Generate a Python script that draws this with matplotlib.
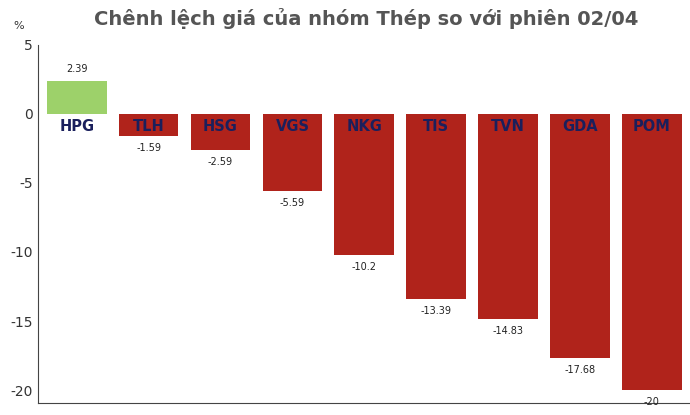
import matplotlib
matplotlib.use("Agg")
import matplotlib.pyplot as plt

categories = ["HPG", "TLH", "HSG", "VGS", "NKG", "TIS", "TVN", "GDA", "POM"]
values = [2.39, -1.59, -2.59, -5.59, -10.2, -13.39, -14.83, -17.68, -20]
labels = ["2.39", "-1.59", "-2.59", "-5.59", "-10.2", "-13.39", "-14.83", "-17.68", "-20"]
yticks = [5, 0, -5, -10, -15, -20]

fig = plt.figure(figsize=(6.9, 4.15), dpi=100)
ax = fig.add_axes([0.055, 0.03, 0.945, 0.862])
x = list(range(len(categories)))
colors = ["#9dd16a" if v > 0 else "#b0231b" for v in values]
ax.bar(x, values, width=0.83, color=colors)
for xi, v, lab, c in zip(x, values, labels, categories):
    if v > 0:
        ax.text(xi, v + 0.5, lab, ha="center", va="bottom", fontsize=7, color="#222")
    else:
        ax.text(xi, v - 0.5, lab, ha="center", va="top", fontsize=7, color="#222")
    ax.text(xi, -0.35, c, ha="center", va="top", fontsize=10.5, fontweight="bold", color="#1a1f5c")
ax.set_xlim(-0.54, 8.53)
ax.set_ylim(-20.9, 5)
ax.set_yticks(yticks)
ax.set_yticklabels([str(t) for t in yticks], fontsize=10, color="#333")
ax.set_xticks([])
ax.tick_params(axis="y", length=0)
for s in ["top", "right"]:
    ax.spines[s].set_visible(False)
ax.spines["left"].set_color("#444")
ax.spines["bottom"].set_color("#444")
fig.text(0.02, 0.93, "%", fontsize=8, color="#333")
fig.text(0.53, 0.955, "Chênh lệch giá của nhóm Thép so với phiên 02/04", ha="center", va="center",
         fontsize=14, fontweight="bold", color="#555")
fig.savefig("out.png", dpi=100)
